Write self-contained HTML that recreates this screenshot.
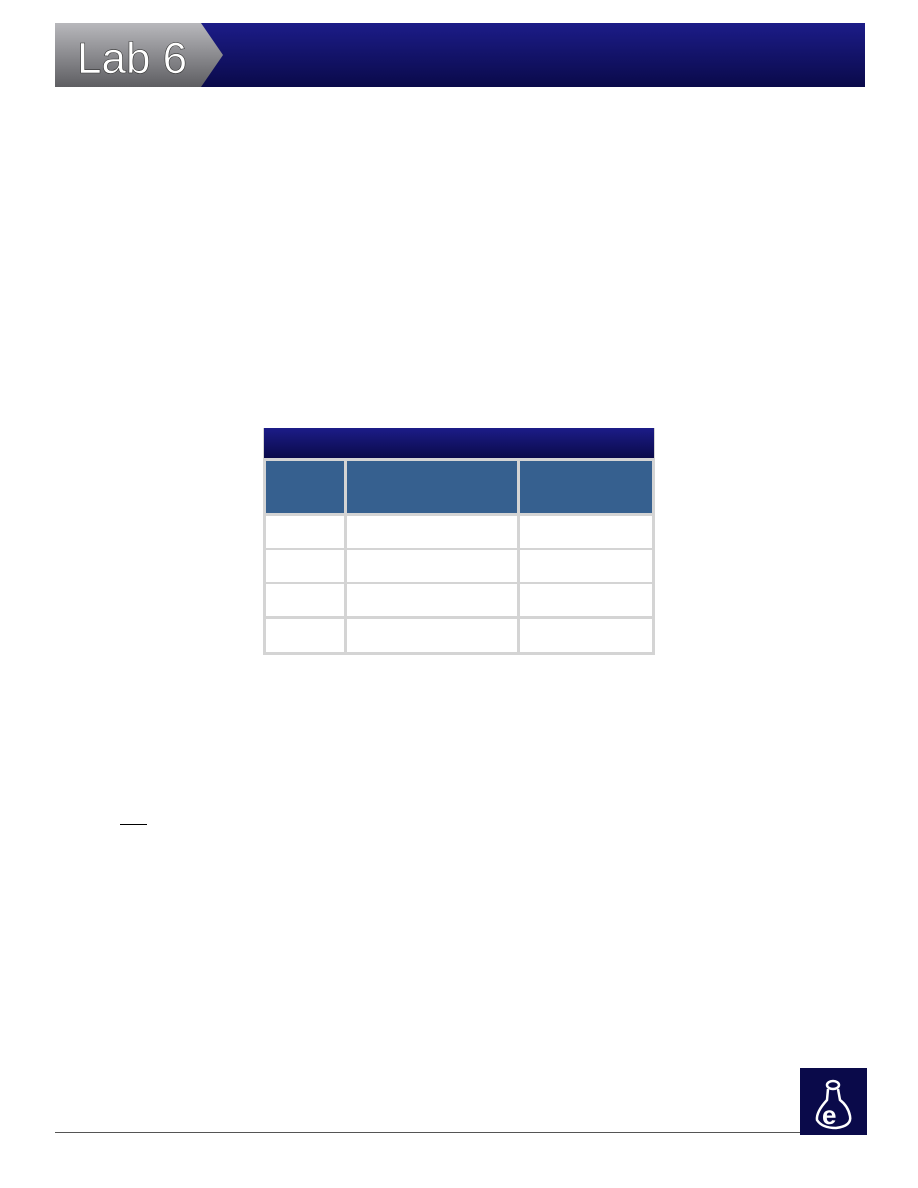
<!DOCTYPE html>
<html><head><meta charset="utf-8"><style>
body{margin:0;width:918px;height:1188px;background:#fff;position:relative;overflow:hidden;font-family:"Liberation Sans",sans-serif}
.abs{position:absolute}
</style></head><body>
<div class="abs" style="left:55px;top:23px;width:810px;height:64px;background:linear-gradient(#1c1c88,#0a0a4a)"></div>
<svg class="abs" style="left:55px;top:23px" width="170" height="64">
<defs><linearGradient id="g" x1="0" y1="0" x2="0" y2="1"><stop offset="0" stop-color="#b8b8bc"/><stop offset="1" stop-color="#5e5e62"/></linearGradient></defs>
<polygon points="0,0 146,0 168,32 146,64 0,64" fill="url(#g)"/>
<text x="22" y="50" font-family="Liberation Sans,sans-serif" font-size="44" fill="#fff" stroke="#333" stroke-width="0.6">Lab 6</text>
</svg>
<div class="abs" style="left:263px;top:428px;width:392px;height:227px;background:#d4d4d4">
<div class="abs" style="left:1px;top:0;width:390px;height:30px;background:linear-gradient(#1c1c88,#0a0a4a)"></div>
<div class="abs" style="left:3px;top:33px;width:78px;height:52px;background:#36608f"></div>
<div class="abs" style="left:84px;top:33px;width:170px;height:52px;background:#36608f"></div>
<div class="abs" style="left:257px;top:33px;width:132px;height:52px;background:#36608f"></div>
<div id="rows"></div>
</div>
<div class="abs" style="left:120px;top:824px;width:27px;height:1px;background:#000"></div>
<div class="abs" style="left:55px;top:1132px;width:745px;height:1px;background:#555"></div>
<svg class="abs" style="left:800px;top:1068px" width="67" height="67">
<rect width="67" height="67" fill="#0a0a4a"/>
<ellipse cx="33" cy="17" rx="6" ry="4" fill="none" stroke="#fff" stroke-width="2.5"/>
<path d="M28 21 L27 32 Q16 44 17 52 Q22 60 36 60 Q52 58 50 48 Q48 38 40 32 L38 21" fill="none" stroke="#fff" stroke-width="2.5"/>
<text x="22" y="56" font-family="Liberation Sans,sans-serif" font-weight="bold" font-size="26" fill="#fff">e</text>
</svg>
<script>
var rowTops=[88,122,156,191];
var c=document.getElementById('rows');
rowTops.forEach(function(t,i){
 [[3,78],[84,170],[257,132]].forEach(function(col,j){
  var d=document.createElement('div');
  d.className='abs';
  
  
  d.style.cssText='left:'+col[0]+'px;top:'+t+'px;width:'+col[1]+'px;height:'+(i==3?33:32)+'px;background:#fff';
  c.appendChild(d);
 });
});
</script>
</body></html>
